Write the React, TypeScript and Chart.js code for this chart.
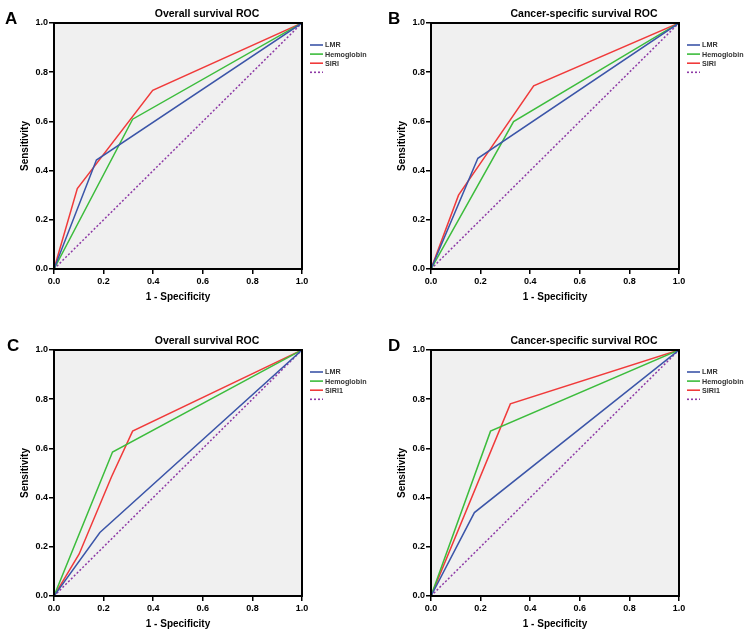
import React, { useEffect, useRef } from "react";
import { Chart, registerables } from "chart.js";

Chart.register(...registerables);
Chart.defaults.font.family = "'Liberation Sans', Arial, sans-serif";

// ---------- data ----------
const axisTicks = [0, 0.2, 0.4, 0.6, 0.8, 1.0];
const labelsTop = ["LMR", "Hemoglobin", "SIRI"];
const labelsBottom = ["LMR", "Hemoglobin", "SIRI1"];
const titles = ["Overall survival ROC", "Cancer-specific survival ROC", "Overall survival ROC", "Cancer-specific survival ROC"];
const letters = ["A", "B", "C", "D"];

const diagX = [0, 1];
const diagY = [0, 1];

// Panel A
const aLmrX = [0, 0.171, 1];
const aLmrY = [0, 0.443, 1];
const aHgbX = [0, 0.317, 1];
const aHgbY = [0, 0.609, 1];
const aSiriX = [0, 0.094, 0.398, 1];
const aSiriY = [0, 0.327, 0.726, 1];

// Panel B
const bLmrX = [0, 0.189, 1];
const bLmrY = [0, 0.45, 1];
const bHgbX = [0, 0.333, 1];
const bHgbY = [0, 0.599, 1];
const bSiriX = [0, 0.111, 0.414, 1];
const bSiriY = [0, 0.3, 0.745, 1];

// Panel C
const cLmrX = [0, 0.185, 1];
const cLmrY = [0, 0.258, 1];
const cHgbX = [0, 0.236, 1];
const cHgbY = [0, 0.585, 1];
const cSiriX = [0, 0.101, 0.232, 0.317, 1];
const cSiriY = [0, 0.17, 0.485, 0.67, 1];

// Panel D
const dLmrX = [0, 0.175, 1];
const dLmrY = [0, 0.339, 1];
const dHgbX = [0, 0.24, 1];
const dHgbY = [0, 0.67, 1];
const dSiriX = [0, 0.32, 1];
const dSiriY = [0, 0.781, 1];

// ---------- styles ----------
const BLUE = "#3b55a8";
const GREEN = "#3cbc3c";
const RED = "#f03a3a";
const PURPLE = "#8e3aa6";

const pts = (xs: number[], ys: number[]) => xs.map((x, i) => ({ x, y: ys[i] }));

const panels = [
  { left: 0, top: 0, letterX: 5, labels: labelsTop, series: [[aLmrX, aLmrY], [aHgbX, aHgbY], [aSiriX, aSiriY]] },
  { left: 377, top: 0, letterX: 11, labels: labelsTop, series: [[bLmrX, bLmrY], [bHgbX, bHgbY], [bSiriX, bSiriY]] },
  { left: 0, top: 327, letterX: 7, labels: labelsBottom, series: [[cLmrX, cLmrY], [cHgbX, cHgbY], [cSiriX, cSiriY]] },
  { left: 377, top: 327, letterX: 11, labels: labelsBottom, series: [[dLmrX, dLmrY], [dHgbX, dHgbY], [dSiriX, dSiriY]] },
];

const W = 370;
const H = 310;

function Panel({ idx }: { idx: number }) {
  const ref = useRef<HTMLCanvasElement | null>(null);
  const p = panels[idx];
  useEffect(() => {
    if (!ref.current) return;
    const colors = [BLUE, GREEN, RED];
    const datasets: any[] = p.series.map((s, i) => ({
      label: p.labels[i],
      data: pts(s[0], s[1]),
      borderColor: colors[i],
      backgroundColor: colors[i],
      borderWidth: 1.5,
      pointRadius: 0,
      showLine: true,
      fill: false,
      tension: 0,
    }));
    datasets.push({
      label: "",
      data: pts(diagX, diagY),
      borderColor: PURPLE,
      backgroundColor: PURPLE,
      borderWidth: 1.5,
      borderDash: [2, 2],
      pointRadius: 0,
      showLine: true,
      fill: false,
    });

    const decor = {
      id: "decor",
      beforeDraw(chart: any) {
        const { ctx, chartArea: a } = chart;
        ctx.save();
        ctx.fillStyle = "#fff";
        ctx.fillRect(0, 0, chart.width, chart.height);
        ctx.fillStyle = "#f0f0f0";
        ctx.fillRect(a.left, a.top, a.right - a.left, a.bottom - a.top);
        ctx.restore();
      },
      afterDraw(chart: any) {
        const { ctx, chartArea: a } = chart;
        ctx.save();
        ctx.strokeStyle = "#000";
        ctx.lineWidth = 2;
        ctx.strokeRect(a.left, a.top, a.right - a.left, a.bottom - a.top);
        // title
        ctx.fillStyle = "#000";
        ctx.font = "bold 10.5px 'Liberation Sans', Arial, sans-serif";
        ctx.textAlign = "center";
        ctx.textBaseline = "middle";
        ctx.fillText(titles[idx], (a.left + a.right) / 2 + 29, a.top - 8.5);
        // letter
        ctx.font = "bold 17px 'Liberation Sans', Arial, sans-serif";
        ctx.textAlign = "left";
        ctx.textBaseline = "alphabetic";
        ctx.fillText(letters[idx], p.letterX, a.top + 1);
        // legend
        ctx.font = "bold 7.2px 'Liberation Sans', Arial, sans-serif";
        ctx.textBaseline = "middle";
        chart.data.datasets.forEach((ds: any, i: number) => {
          const y = a.top + 22 + i * 9.1;
          const x0 = a.right + 8;
          ctx.strokeStyle = ds.borderColor;
          ctx.lineWidth = 1.6;
          ctx.setLineDash(ds.borderDash || []);
          ctx.beginPath();
          ctx.moveTo(x0, y);
          ctx.lineTo(x0 + 13, y);
          ctx.stroke();
          ctx.setLineDash([]);
          ctx.fillStyle = "#333";
          ctx.fillText(ds.label, x0 + 15, y + 0.5);
        });
        ctx.restore();
      },
    };

    const tickFont = { size: 9, weight: "bold" as const };
    const common = {
      type: "linear" as const,
      min: 0,
      max: 1,
      afterBuildTicks: (s: any) => {
        s.ticks = axisTicks.map((v) => ({ value: v }));
      },
      ticks: {
        color: "#000",
        font: tickFont,
        maxRotation: 0,
        autoSkip: false,
        callback: (v: any) => Number(v).toFixed(1),
      },
      grid: { drawOnChartArea: false, drawTicks: true, tickLength: 5, color: "#000", lineWidth: 1.5 },
      border: { display: true, color: "#000", width: 2 },
    };

    const chart = new Chart(ref.current, {
      type: "scatter",
      data: { datasets },
      options: {
        animation: false,
        responsive: false,
        maintainAspectRatio: false,
        layout: { padding: { left: 0, top: 23, right: W - 302, bottom: 0 } },
        plugins: { legend: { display: false }, tooltip: { enabled: false }, title: { display: false } },
        scales: {
          x: {
            ...common,
            position: "bottom",
            afterFit: (s: any) => {
              s.height = H - 269;
            },
            ticks: { ...common.ticks, padding: 2 },
            title: {
              display: true,
              text: "1 - Specificity",
              color: "#000",
              font: { size: 10, weight: "bold" },
              padding: { top: 0, bottom: 7 },
            },
          },
          y: {
            ...common,
            position: "left",
            afterFit: (s: any) => {
              s.width = 54;
            },
            ticks: { ...common.ticks, padding: 1 },
            title: {
              display: true,
              text: "Sensitivity",
              color: "#000",
              font: { size: 10, weight: "bold" },
              padding: { top: 19, bottom: 0 },
            },
          },
        },
      } as any,
      plugins: [decor],
    });
    return () => chart.destroy();
  }, [idx]);
  return (
    <canvas
      ref={ref}
      width={W}
      height={H}
      style={{ position: "absolute", left: p.left, top: p.top, width: W, height: H }}
    />
  );
}

export default function App() {
  return (
    <div
      style={{
        position: "absolute",
        left: 0,
        top: 0,
        width: 750,
        height: 635,
        overflow: "hidden",
        background: "#fff",
      }}
    >
      {panels.map((_, i) => (
        <Panel key={i} idx={i} />
      ))}
    </div>
  );
}
